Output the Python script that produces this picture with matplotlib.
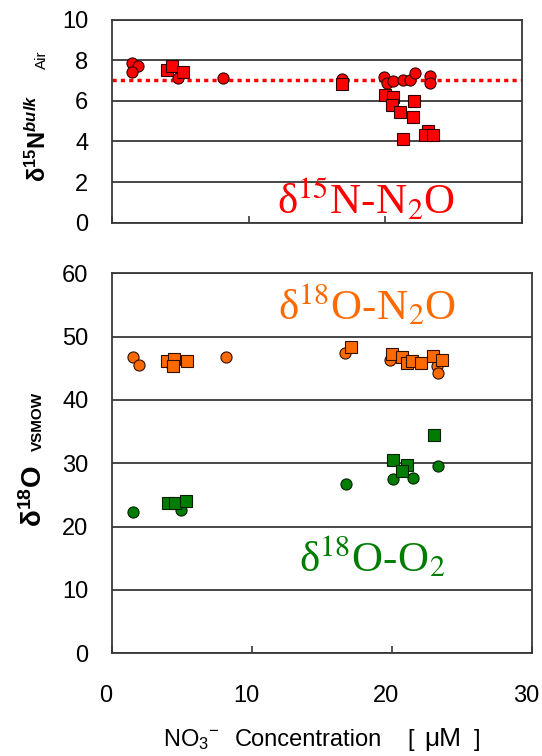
import matplotlib
matplotlib.use("Agg")
import matplotlib.pyplot as plt
from matplotlib.transforms import ScaledTranslation

# ---- data ----
n15_circ_x = [1.44, 1.93, 1.44, 4.85, 8.15, 16.8, 19.9, 20.1, 20.6, 21.3, 21.8, 22.2, 23.3, 23.3]
n15_circ_y = [7.88, 7.72, 7.44, 7.11, 7.11, 7.06, 7.16, 6.90, 6.95, 7.03, 7.03, 7.39, 7.23, 6.90]
n15_sq_x = [4.0, 4.37, 5.22, 16.85, 19.97, 20.6, 20.46, 22.1, 21.07, 22.0, 21.3, 23.1, 22.9, 23.5]
n15_sq_y = [7.52, 7.69, 7.44, 6.82, 6.29, 6.21, 5.80, 6.00, 5.47, 5.22, 4.10, 4.53, 4.32, 4.32]
n15_ref = 7.0

o18n2o_circ_x = [1.48, 1.95, 4.26, 8.14, 16.64, 19.86, 23.2, 23.3]
o18n2o_circ_y = [46.8, 45.6, 45.3, 46.8, 47.4, 46.3, 45.3, 44.2]
o18n2o_sq_x = [3.9, 4.43, 5.33, 4.38, 17.05, 19.98, 20.7, 21.1, 21.4, 22.1, 22.95, 23.55]
o18n2o_sq_y = [46.2, 46.4, 46.2, 45.3, 48.3, 47.2, 46.8, 45.9, 46.2, 45.9, 46.9, 46.3]

o18o2_circ_x = [1.52, 4.93, 16.7, 20.1, 21.5, 23.3]
o18o2_circ_y = [22.3, 22.7, 26.7, 27.5, 27.7, 29.5]
o18o2_sq_x = [4.02, 4.5, 5.29, 20.05, 21.05, 20.7, 23.0]
o18o2_sq_y = [23.7, 23.8, 24.1, 30.6, 29.7, 28.8, 34.5]

x_ticks = [0, 10, 20, 30]
top_yticks = [0, 2, 4, 6, 8, 10]
bot_yticks = [0, 10, 20, 30, 40, 50, 60]

RED = "#FF0000"
ORANGE = "#FF6A00"
GREEN = "#007D00"
GRID = "#383838"

plt.rcParams['font.family'] = ['Liberation Sans', 'DejaVu Sans']
plt.rcParams['mathtext.fontset'] = 'custom'
plt.rcParams['mathtext.rm'] = 'Liberation Sans'
plt.rcParams['mathtext.it'] = 'Liberation Sans:italic'
plt.rcParams['mathtext.bf'] = 'Liberation Sans:bold'
plt.rcParams['mathtext.bfit'] = 'Liberation Sans:italic:bold'

fig = plt.figure(figsize=(5.42, 7.56), dpi=100)
ax1 = fig.add_axes([0.2066, 0.7054, 0.963 - 0.2066, 0.9742 - 0.7054])
ax2 = fig.add_axes([0.2066, 0.1358, 0.9815 - 0.2066, 0.6385 - 0.1358])

for ax in (ax1, ax2):
    for s in ax.spines.values():
        s.set_color(GRID)
        s.set_linewidth(1.3)
    ax.set_xlim(0, 30)
    ax.set_xticks(x_ticks)
    ax.tick_params(axis='x', direction='in', length=5, width=1.2, color=GRID)
    ax.tick_params(axis='y', length=0, labelsize=17, pad=17)
    ax.grid(axis='y', color=GRID, linewidth=1.3)
    ax.set_axisbelow(True)

ms_c = 8
ms_s = 9
serif = ['Liberation Serif', 'DejaVu Serif']

# top panel
ax1.set_ylim(0, 10)
ax1.set_yticks(top_yticks)
ax1.set_xticklabels([])
ax1.axhline(n15_ref, color=RED, linestyle=(0, (1.2, 1.2)), linewidth=2.5, zorder=2)
ax1.plot(n15_circ_x, n15_circ_y, 'o', ms=ms_c, mfc=RED, mec='#300000', mew=0.8, zorder=3)
ax1.plot(n15_sq_x, n15_sq_y, 's', ms=ms_s, mfc=RED, mec='#300000', mew=0.8, zorder=3)
ax1.text(0.62, 0.04, r"δ$^{15}$N-N$_2$O", transform=ax1.transAxes, ha='center', va='baseline',
         color=RED, fontsize=31, family=serif, math_fontfamily='stix', clip_on=False)

# bottom panel
ax2.set_ylim(0, 60)
ax2.set_yticks(bot_yticks)
ax2.tick_params(axis='x', labelsize=17, pad=23)
off = ScaledTranslation(-6 / 100, 0, fig.dpi_scale_trans)
for lab in ax2.get_xticklabels():
    lab.set_transform(lab.get_transform() + off)
ax2.plot(o18n2o_circ_x, o18n2o_circ_y, 'o', ms=ms_c, mfc=ORANGE, mec='#301000', mew=0.8, zorder=3)
ax2.plot(o18n2o_sq_x, o18n2o_sq_y, 's', ms=ms_s, mfc=ORANGE, mec='#301000', mew=0.8, zorder=3)
ax2.plot(o18o2_circ_x, o18o2_circ_y, 'o', ms=ms_c, mfc=GREEN, mec='#002000', mew=0.8, zorder=3)
ax2.plot(o18o2_sq_x, o18o2_sq_y, 's', ms=ms_s, mfc=GREEN, mec='#002000', mew=0.8, zorder=3)
ax2.text(0.607, 0.88, r"δ$^{18}$O-N$_2$O", transform=ax2.transAxes, ha='center', va='baseline',
         color=ORANGE, fontsize=31, family=serif, math_fontfamily='stix')
ax2.text(0.62, 0.215, r"δ$^{18}$O-O$_2$", transform=ax2.transAxes, ha='center', va='baseline',
         color=GREEN, fontsize=31, family=serif, math_fontfamily='stix')

# y-axis labels (rotated, pieces)
W, H = 542.0, 756.0
fig.text(46 / W, 1 - 182 / H, r"δ$^{\mathbf{15}}$N$^{\mathbfit{bulk}}$", rotation=90,
         rotation_mode='anchor', ha='left', va='baseline', fontsize=17, fontweight='bold')
fig.text(46 / W, 1 - 69 / H, "Air", rotation=90, rotation_mode='anchor',
         ha='left', va='baseline', fontsize=11)
fig.text(42 / W, 1 - 527 / H, r"δ$^{\mathbf{18}}$O", rotation=90,
         rotation_mode='anchor', ha='left', va='baseline', fontsize=20, fontweight='bold')
fig.text(42 / W, 1 - 451 / H, "VSMOW", rotation=90, rotation_mode='anchor',
         ha='left', va='baseline', fontsize=11, fontweight='bold')

# x-axis label (pieces)
fig.text(163 / W, 1 - 746 / H, r"NO$_3$$^{-}$", ha='left', va='baseline', fontsize=17)
fig.text(235 / W, 1 - 746 / H, "Concentration", ha='left', va='baseline', fontsize=17)
fig.text(407 / W, 1 - 746 / H, "[", ha='left', va='baseline', fontsize=17)
fig.text(443 / W, 1 - 746 / H, "μM", ha='center', va='baseline', fontsize=19)
fig.text(480 / W, 1 - 746 / H, "]", ha='right', va='baseline', fontsize=17)

fig.savefig("out.png", dpi=100)
